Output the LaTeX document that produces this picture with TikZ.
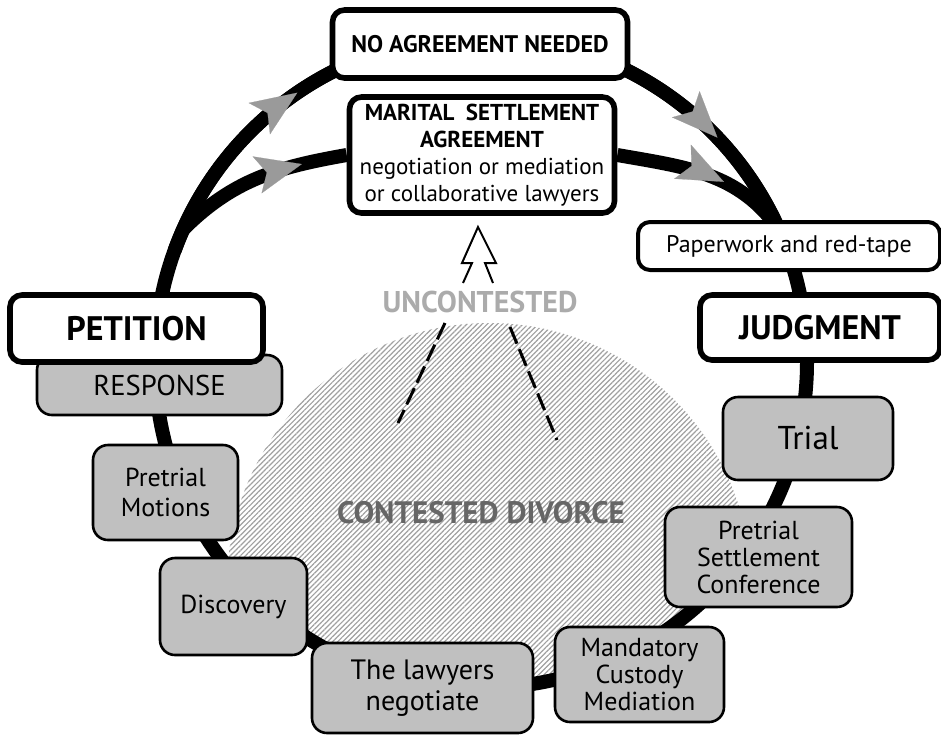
\documentclass[tikz,border=0pt]{standalone}
\usepackage{fontspec}
\setmainfont{PT Sans}
\usetikzlibrary{arrows.meta,decorations.markings,patterns.meta,backgrounds}
\definecolor{boxgray}{HTML}{C0C0C0}
\definecolor{tipgray}{HTML}{9A9A9A}
\definecolor{hatchgray}{HTML}{A0A0A0}
\definecolor{uncgray}{HTML}{ABABAB}
\definecolor{congray}{HTML}{666666}
\begin{document}
\begin{tikzpicture}[x=0.5pt,y=0.5pt,
  ring/.style={line width=7pt},
  keybox/.style={draw,line width=2.8pt,fill=white,rounded corners=6pt,align=center,inner sep=0pt},
  stepbox/.style={draw,line width=1.3pt,fill=boxgray,rounded corners=7.5pt,align=center,inner sep=0pt,font=\fontsize{13}{13.5}\selectfont},
  flowtip/.style={postaction={decorate,decoration={markings,mark=at position #1 with {\arrow{Stealth[length=23pt,width=19pt,inset=5pt,line width=0.1pt,color=tipgray]}}}}}]
\useasboundingbox (0,0) rectangle (941,-735);
\node[keybox,minimum width=147.5pt,minimum height=34pt,font=\fontsize{12}{13.5}\selectfont\bfseries] (na) at (480,-44) {NO AGREEMENT NEEDED};
\node[keybox,minimum width=132.5pt,minimum height=58pt,font=\fontsize{11.5}{13.5}\selectfont] (m) at (482,-155) {\textbf{MARITAL\enspace SETTLEMENT}\\\textbf{AGREEMENT}\\negotiation or mediation\\or collaborative lawyers};
\node[keybox,line width=2pt,minimum width=151pt,minimum height=24pt,font=\fontsize{12}{14}\selectfont] (p) at (789,-246) {Paperwork and red-tape};
\node[keybox,minimum width=120pt,minimum height=32.5pt,font=\fontsize{17}{19}\selectfont\bfseries] (j) at (820,-327.5) {JUDGMENT};
\node[stepbox,minimum width=122.5pt,minimum height=30pt,font=\fontsize{14.3}{16}\selectfont] (r) at (159.5,-385) {RESPONSE};
\node[keybox,minimum width=126.5pt,minimum height=33.5pt,font=\fontsize{17}{19}\selectfont\bfseries] (pe) at (136.5,-328.5) {PETITION};
\node[stepbox,minimum width=72.5pt,minimum height=47.5pt,font=\fontsize{13}{15}\selectfont] (pm) at (165.5,-492.5) {Pretrial\\Motions};
\node[stepbox,minimum width=73.5pt,minimum height=48.5pt] (d) at (233.5,-606.5) {Discovery};
\node[stepbox,minimum width=110.5pt,minimum height=45pt,font=\fontsize{14}{15.5}\selectfont] (l) at (422.5,-688) {The lawyers\\negotiate};
\node[stepbox,minimum width=84.5pt,minimum height=47.5pt] (mc) at (639.5,-674.5) {Mandatory\\Custody\\Mediation};
\node[stepbox,minimum width=93.5pt,minimum height=50pt] (ps) at (758.5,-557) {Pretrial\\Settlement\\Conference};
\node[stepbox,minimum width=85pt,minimum height=41.5pt,font=\fontsize{16.5}{18}\selectfont] (t) at (808,-438.5) {Trial};
\node[font=\fontsize{15}{16}\selectfont\bfseries,text=uncgray] (u) at (480,-302) {UNCONTESTED};
\node[font=\fontsize{15.5}{17}\selectfont\bfseries,text=congray] (cd) at (481,-513) {CONTESTED DIVORCE};
\coordinate (ul) at (445,-323);
\coordinate (ll) at (398,-423);
\coordinate (ur) at (510,-327);
\coordinate (lr) at (557,-440);
\draw[line width=1.5pt,dash pattern=on 9pt off 3pt] (ul) -- (ll);
\draw[line width=1.5pt,dash pattern=on 9pt off 3pt] (ur) -- (lr);
\draw[line width=1pt,line join=miter] (463,-283) -- (472,-263) -- (462,-263) -- (478,-227) -- (496,-263) -- (485,-263) -- (493,-283);
\begin{scope}[on background layer]
\coordinate (c) at (481,-362);
\begin{scope}
\clip (c) circle[radius=326];
\fill[pattern={Lines[angle=45,distance=1.8pt,line width=0.6pt]},pattern color=hatchgray] (489,-585) circle[radius=262];
\end{scope}
\draw[ring] (c) circle[radius=326];
\draw[ring,flowtip=0.5] (c) ++(160:326) arc[start angle=160,end angle=88.6,radius=326];
\draw[ring,flowtip=0.5] (c) ++(70:326) arc[start angle=70,end angle=17,radius=326];
\path (c) ++(156:326) coordinate (il) (c) ++(24:326) coordinate (ir);
\draw[ring,flowtip=0.75] (il) to[out=45,in=190] (m.west);
\draw[ring,flowtip=0.6] (m.east) to[out=-10,in=125] (ir);
\end{scope}
\end{tikzpicture}
\end{document}
